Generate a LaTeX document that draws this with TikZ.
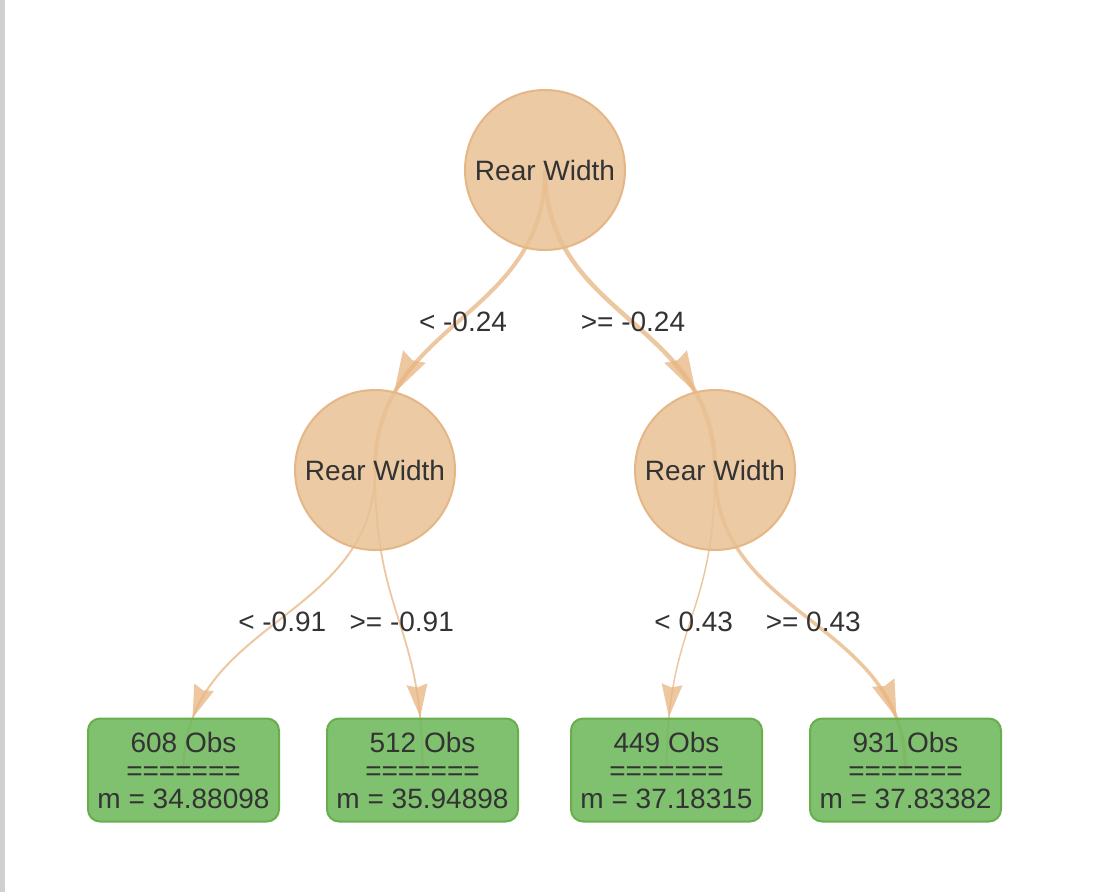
\documentclass[tikz,border=0pt]{standalone}
\usepackage{fontspec}
\setmainfont{Liberation Sans}
\usetikzlibrary{arrows.meta,decorations.markings,backgrounds}

\definecolor{splitfill}{RGB}{232,193,148}
\definecolor{splitline}{RGB}{229,182,134}
\definecolor{edgecol}{RGB}{231,180,128}
\definecolor{leaffill}{RGB}{110,184,92}
\definecolor{leafline}{RGB}{104,175,75}
\definecolor{txt}{RGB}{51,51,51}
\definecolor{frame}{RGB}{208,208,208}

\tikzset{
  bigtext/.style={text=txt,font=\fontsize{28}{28}\selectfont},
  split/.style={bigtext,circle,minimum size=160pt,inner sep=0pt,
    fill=splitfill,fill opacity=0.85,text opacity=1,draw=splitline,line width=2pt},
  leaf/.style={bigtext,rectangle,rounded corners=12pt,minimum width=191pt,
    minimum height=103pt,inner sep=0pt,align=center,
    fill=leaffill,fill opacity=0.88,text opacity=1,draw=leafline,line width=2pt},
  branch/.style n args={4}{draw=edgecol,opacity=0.75,line width=#1,
    postaction={decorate},
    decoration={markings,mark=at position -#2 with
      {\arrow{Stealth[length=#3,width=#4,inset=0.1*#3,line width=0pt]}}}},
  cond/.style={bigtext,midway,opacity=1,text opacity=1}
}

\begin{document}
\begin{tikzpicture}[x=1pt,y=-1pt]

% Fix the canvas
\useasboundingbox (0,0) rectangle (1110,892);
\fill[frame] (0,0) rectangle (5,892);

% Draw the splits
\node[split] (root) at (545,170) {Rear Width};
\node[split] (left) at (375,470) {Rear Width};
\node[split] (right) at (715,470) {Rear Width};

% Draw the leaves
\node[leaf] (leafA) at (183.5,770) {608 Obs\\=======\\m = 34.88098};
\node[leaf] (leafB) at (422.5,770) {512 Obs\\=======\\m = 35.94898};
\node[leaf] (leafC) at (666.5,770) {449 Obs\\=======\\m = 37.18315};
\node[leaf] (leafD) at (905.5,770) {931 Obs\\=======\\m = 37.83382};

% Draw the branches behind the nodes
\begin{pgfonlayer}{background}
\draw[branch={4pt}{80pt}{42pt}{26pt}] (root.center) .. controls +(0,150) and +(0,-150) .. (left.center) node[cond,xshift=3pt,yshift=-2pt] {< -0.24};
\draw[branch={4.5pt}{80pt}{42pt}{26pt}] (root.center) .. controls +(0,150) and +(0,-150) .. (right.center) node[cond,xshift=3pt,yshift=-2pt] {>= -0.24};
\draw[branch={2pt}{53pt}{33pt}{21pt}] (left.center) .. controls +(0,150) and +(0,-150) .. (leafA.center) node[cond,xshift=3pt,yshift=-2pt] {< -0.91};
\draw[branch={1.8pt}{53pt}{33pt}{21pt}] (left.center) .. controls +(0,150) and +(0,-150) .. (leafB.center) node[cond,xshift=3pt,yshift=-2pt] {>= -0.91};
\draw[branch={1.5pt}{53pt}{33pt}{21pt}] (right.center) .. controls +(0,150) and +(0,-150) .. (leafC.center) node[cond,xshift=3pt,yshift=-2pt] {< 0.43};
\draw[branch={3.5pt}{53pt}{38pt}{24pt}] (right.center) .. controls +(0,150) and +(0,-150) .. (leafD.center) node[cond,xshift=3pt,yshift=-2pt] {>= 0.43};
\end{pgfonlayer}

\end{tikzpicture}
\end{document}
